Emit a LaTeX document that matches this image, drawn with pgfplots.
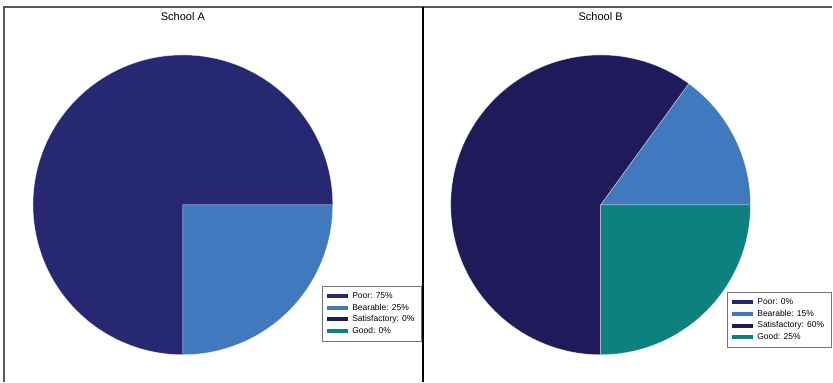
\documentclass[border=0pt]{standalone}
\usepackage{pgfplots}
\usepackage{pgfplotstable}
\pgfplotsset{compat=1.18}
\usepackage{fontspec}
\setmainfont{Liberation Sans}

\definecolor{poorc}{RGB}{39,40,114}
\definecolor{bearc}{RGB}{65,121,190}
\definecolor{satc}{RGB}{31,26,90}
\definecolor{goodc}{RGB}{14,128,126}

\pgfplotstableread{
label value color
Poor 75 poorc
Bearable 25 bearc
Satisfactory 0 satc
Good 0 goodc
}\schoolA
\pgfplotstableread{
label value color
Poor 0 poorc
Bearable 15 bearc
Satisfactory 60 satc
Good 25 goodc
}\schoolB

\newcommand\pieslices[2]{%
  \pgfplotstablegetrowsof{#1}\pgfmathtruncatemacro\nrows{\pgfplotsretval-1}%
  \def\cumangle{0}%
  \pgfplotsforeachungrouped \i in {0,...,\nrows}{%
    \pgfplotstablegetelem{\i}{value}\of{#1}\let\val\pgfplotsretval
    \pgfplotstablegetelem{\i}{color}\of{#1}\let\col\pgfplotsretval
    \pgfmathsetmacro\endangle{\cumangle+3.6*\val}%
    \ifdim\val pt>0pt
      \edef\temp{\noexpand\fill[\col, draw=white, draw opacity=0.55, line width=0.6bp] (axis cs:0,0) -- (axis cs:{#2*cos(\cumangle)},{#2*sin(\cumangle)}) arc[start angle=\cumangle, end angle=\endangle, radius=#2] -- cycle;}%
      \temp
    \fi
    \global\let\cumangle\endangle
  }%
}

\pgfplotsset{
  piestyle/.style={
    scale only axis, hide axis, clip=false,
    ymin=-177, ymax=198,
    height=375bp,
    legend cell align=left,
    legend style={font=\fontsize{8.5bp}{10bp}\selectfont, draw=black!55, line width=0.5bp, fill=white,
      inner xsep=5bp, inner ysep=4.5bp, row sep=0bp},
    legend image code/.code={\fill[##1, draw=none] (0bp,-2bp) rectangle (21bp,2bp); \path (23bp,0bp);},
  },
}

\begin{document}
\begin{tikzpicture}
\path (0,0) rectangle (833bp,382bp);
\begin{axis}[piestyle, at={(4bp,0bp)}, anchor=south west,
  width=419bp, xmin=-179, xmax=240,
  legend style={at={(0.9976,0.107)}, anchor=south east}]
  \pieslices{\schoolA}{150}
  \addlegendimage{fill=poorc}\addlegendentry{Poor: 75\%}
  \addlegendimage{fill=bearc}\addlegendentry{Bearable: 25\%}
  \addlegendimage{fill=satc}\addlegendentry{Satisfactory: 0\%}
  \addlegendimage{fill=goodc}\addlegendentry{Good: 0\%}
  \node[font=\fontsize{11bp}{13bp}\selectfont] at (axis cs:0,188) {School A};
\end{axis}
\begin{axis}[piestyle, at={(423bp,0bp)}, anchor=south west,
  width=410bp, xmin=-178, xmax=232,
  legend style={at={(0.9976,0.0907)}, anchor=south east}]
  \pieslices{\schoolB}{150}
  \addlegendimage{fill=poorc}\addlegendentry{Poor: 0\%}
  \addlegendimage{fill=bearc}\addlegendentry{Bearable: 15\%}
  \addlegendimage{fill=satc}\addlegendentry{Satisfactory: 60\%}
  \addlegendimage{fill=goodc}\addlegendentry{Good: 25\%}
  \node[font=\fontsize{11bp}{13bp}\selectfont] at (axis cs:0,188) {School B};
\end{axis}
\draw[black!65, line width=1.1bp] (4bp,0bp) -- (4bp,375bp) -- (833bp,375bp);
\draw[black, line width=2bp] (423bp,0bp) -- (423bp,375bp);
\end{tikzpicture}
\end{document}
